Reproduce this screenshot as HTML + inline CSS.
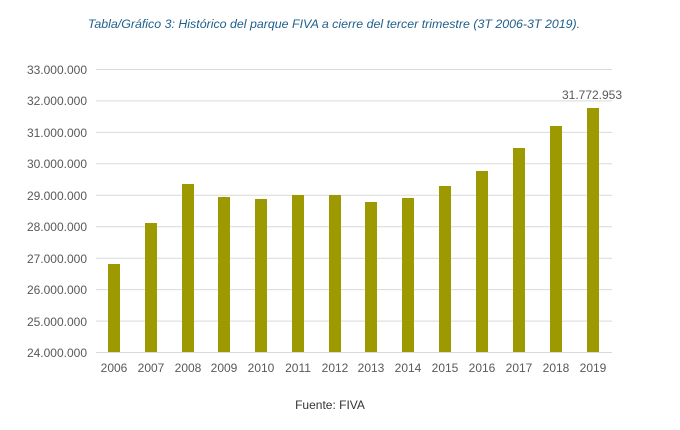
<!DOCTYPE html><html><head><style>body{margin:0;background:#fff}</style></head><body>
<svg width="680" height="425" xmlns="http://www.w3.org/2000/svg" font-family="Liberation Sans, sans-serif">
<text x="334" y="28" text-anchor="middle" font-size="12.4" font-style="italic" fill="#1f5f8b">Tabla/Gráfico 3: Histórico del parque FIVA a cierre del tercer trimestre (3T 2006-3T 2019).</text>
<g stroke="#d9d9d9" stroke-width="1">
<line x1="96" x2="612" y1="69.5" y2="69.5"/><line x1="96" x2="612" y1="100.9" y2="100.9"/><line x1="96" x2="612" y1="132.4" y2="132.4"/><line x1="96" x2="612" y1="163.8" y2="163.8"/><line x1="96" x2="612" y1="195.3" y2="195.3"/><line x1="96" x2="612" y1="226.7" y2="226.7"/><line x1="96" x2="612" y1="258.2" y2="258.2"/><line x1="96" x2="612" y1="289.6" y2="289.6"/><line x1="96" x2="612" y1="321.1" y2="321.1"/><line x1="96" x2="612" y1="352.5" y2="352.5"/>
</g>
<g font-size="12" fill="#595959" text-anchor="end">
<text x="87" y="74">33.000.000</text><text x="87" y="105">32.000.000</text><text x="87" y="137">31.000.000</text><text x="87" y="168">30.000.000</text><text x="87" y="200">29.000.000</text><text x="87" y="231">28.000.000</text><text x="87" y="263">27.000.000</text><text x="87" y="294">26.000.000</text><text x="87" y="326">25.000.000</text><text x="87" y="357">24.000.000</text>
</g>
<g fill="#9c9a00">
<rect x="108" y="264" width="12" height="88"/>
<rect x="145" y="223" width="12" height="129"/>
<rect x="182" y="184" width="12" height="168"/>
<rect x="218" y="197" width="12" height="155"/>
<rect x="255" y="199" width="12" height="153"/>
<rect x="292" y="195" width="12" height="157"/>
<rect x="329" y="195" width="12" height="157"/>
<rect x="365" y="202" width="12" height="150"/>
<rect x="402" y="198" width="12" height="154"/>
<rect x="439" y="186" width="12" height="166"/>
<rect x="476" y="171" width="12" height="181"/>
<rect x="513" y="148" width="12" height="204"/>
<rect x="550" y="126" width="12" height="226"/>
<rect x="587" y="108" width="12" height="244"/>
</g>
<g font-size="12" fill="#595959" text-anchor="middle">
<text x="114" y="372">2006</text><text x="151" y="372">2007</text><text x="188" y="372">2008</text><text x="224" y="372">2009</text><text x="261" y="372">2010</text><text x="298" y="372">2011</text><text x="335" y="372">2012</text><text x="371" y="372">2013</text><text x="408" y="372">2014</text><text x="445" y="372">2015</text><text x="482" y="372">2016</text><text x="519" y="372">2017</text><text x="556" y="372">2018</text><text x="593" y="372">2019</text>
<text x="592" y="99">31.772.953</text>
<text x="330" y="409" fill="#333">Fuente: FIVA</text>
</g>
</svg></body></html>
